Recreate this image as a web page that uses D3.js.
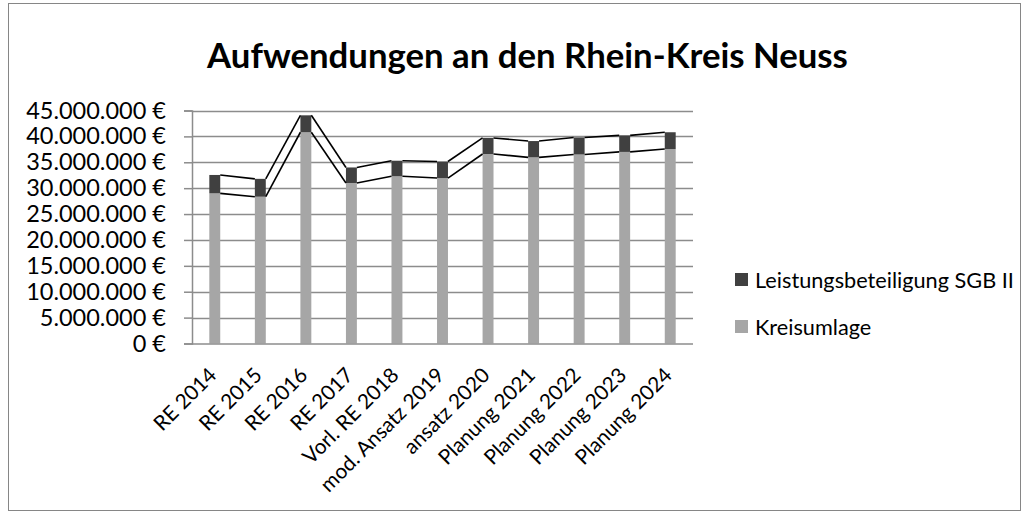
<!DOCTYPE html>
<html>
<head>
<meta charset="utf-8">
<script src="https://cdn.jsdelivr.net/npm/d3@7"></script>
<style>
  body { margin: 0; background: #fff; }
  svg { display: block; }
  text { font-family: Lato, "Open Sans", sans-serif; fill: #000; }
</style>
</head>
<body>
<div id="chart"></div>
<script>
// values (Euro)
const categories = ["RE 2014", "RE 2015", "RE 2016", "RE 2017", "Vorl. RE 2018", "mod. Ansatz 2019",
  "ansatz 2020", "Planung 2021", "Planung 2022", "Planung 2023", "Planung 2024"];
const kreisumlage = [29000000, 28350000, 40800000, 31000000, 32300000, 31950000,
  36600000, 35950000, 36500000, 37000000, 37550000];
const leistungsbeteiligung = [3550000, 3450000, 3270000, 3000000, 3000000, 3200000,
  3100000, 3150000, 3300000, 3200000, 3250000];
const yTicks = [0, 5000000, 10000000, 15000000, 20000000, 25000000, 30000000, 35000000, 40000000, 45000000];
const seriesNames = ["Leistungsbeteiligung SGB II", "Kreisumlage"];
const title = "Aufwendungen an den Rhein-Kreis Neuss";

const W = 1029, H = 515;
const plot = {left: 192, right: 693, top: 110.5, bottom: 343.5};
const colKreis = "#a6a6a6", colLeist = "#404040", gridCol = "#8c8c8c";

const de = d3.formatLocale({decimal: ",", thousands: ".", grouping: [3], currency: ["", " €"]});
const fmt = v => de.format(",.0f")(v) + " €";

const rows = categories.map((c, i) => ({cat: c, kreis: kreisumlage[i], leist: leistungsbeteiligung[i]}));
const stacked = d3.stack().keys(["kreis", "leist"])(rows);

const svg = d3.select("#chart").append("svg").attr("width", W).attr("height", H);

// chart frame
svg.append("rect")
  .attr("x", 8.5).attr("y", 3.5).attr("width", 1012).attr("height", 507)
  .attr("fill", "#fff").attr("stroke", "#868686").attr("stroke-width", 1);

const x = d3.scaleBand().domain(categories).range([plot.left, plot.right]).paddingInner(0.76).paddingOuter(0.38);
const y = d3.scaleLinear().domain([0, 45000000]).range([plot.bottom, plot.top]);

// fit a font size so a string reaches a wanted width
function fitSize(str, width, weight) {
  const t = svg.append("text").attr("font-size", 100).attr("font-weight", weight || "normal").text(str);
  const w = t.node().getComputedTextLength();
  t.remove();
  return 100 * width / w;
}
const tickSize = fitSize("45.000.000 €", 140);
const catSize = fitSize("mod. Ansatz 2019", 165);
const legendSize = fitSize("Leistungsbeteiligung SGB II", 259);

// gridlines
svg.append("g").selectAll("line").data(yTicks.slice(1)).join("line")
  .attr("x1", plot.left).attr("x2", plot.right)
  .attr("y1", d => Math.round(y(d)) + 0.5).attr("y2", d => Math.round(y(d)) + 0.5)
  .attr("stroke", gridCol).attr("stroke-width", 1.5);

// y axis
const yAxis = svg.append("g").attr("transform", `translate(${plot.left},0)`)
  .call(d3.axisLeft(y).tickValues(yTicks).tickFormat(fmt).tickSize(8).tickPadding(18));
yAxis.select(".domain").attr("stroke", gridCol).attr("stroke-width", 1.5);
yAxis.selectAll(".tick line").attr("stroke", gridCol).attr("stroke-width", 1.5);
yAxis.selectAll(".tick text").attr("font-size", tickSize).attr("font-family", "Lato").attr("fill", "#000");

// bars
const colors = {kreis: colKreis, leist: colLeist};
svg.append("g").selectAll("g").data(stacked).join("g")
  .attr("fill", d => colors[d.key])
  .selectAll("rect").data(d => d).join("rect")
  .attr("x", d => x(d.data.cat))
  .attr("y", d => y(d[1]))
  .attr("width", x.bandwidth())
  .attr("height", d => y(d[0]) - y(d[1]));

// x axis baseline
svg.append("line")
  .attr("x1", plot.left).attr("x2", plot.right)
  .attr("y1", plot.bottom + 0.5).attr("y2", plot.bottom + 0.5)
  .attr("stroke", gridCol).attr("stroke-width", 1.5);

// series lines between bars
stacked.forEach(s => {
  for (let i = 0; i < s.length - 1; i++) {
    svg.append("line")
      .attr("x1", x(categories[i]) + x.bandwidth()).attr("y1", y(s[i][1]))
      .attr("x2", x(categories[i + 1])).attr("y2", y(s[i + 1][1]))
      .attr("stroke", "#000").attr("stroke-width", 1.6);
  }
});

// category labels
svg.append("g").selectAll("text").data(categories).join("text")
  .attr("transform", d => `translate(${x(d) + x.bandwidth() / 2 + 3},${plot.bottom + 33}) rotate(-45)`)
  .attr("text-anchor", "end")
  .attr("font-size", catSize)
  .text(d => d);

// title
const titleSize = fitSize(title, 641, "bold");
svg.append("text")
  .attr("x", 527.5).attr("y", 68)
  .attr("text-anchor", "middle").attr("font-weight", "bold").attr("font-size", titleSize)
  .text(title);

// legend
const legend = svg.append("g").selectAll("g").data(seriesNames).join("g")
  .attr("transform", (d, i) => `translate(735,${280 + i * 47})`);
legend.append("rect").attr("x", 0).attr("y", -7).attr("width", 13).attr("height", 13)
  .attr("fill", (d, i) => i === 0 ? colLeist : colKreis);
legend.append("text").attr("x", 20).attr("y", 0).attr("dy", "0.35em")
  .attr("font-size", legendSize).text(d => d);
</script>
</body>
</html>
